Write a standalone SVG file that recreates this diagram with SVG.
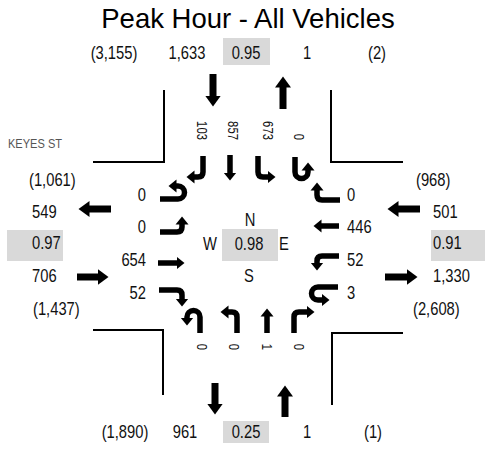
<svg xmlns="http://www.w3.org/2000/svg" width="485" height="453" viewBox="0 0 485 453">
<defs>
<style>
text{font-family:"Liberation Sans",Arial,sans-serif;fill:#111;}
.t{font-size:18px;}
.c{text-anchor:middle;}
.e{text-anchor:end;}
.r{font-size:14.5px;}
.title{font-size:27.5px;text-anchor:middle;fill:#000;}
.street{font-size:13.5px;fill:#555;}
.box{fill:#d9d9d9;}
.ln{fill:none;stroke:#000;stroke-width:2;}
.la{fill:none;stroke:#000;stroke-width:5.5;marker-end:url(#ah);}
.ba{fill:none;stroke:#000;stroke-width:7;marker-end:url(#bh);}
</style>
<marker id="ah" markerUnits="userSpaceOnUse" markerWidth="10" markerHeight="14" viewBox="0 -7 10 14" refX="0.5" refY="0" orient="auto"><path d="M0,-6.5 L8,0 L0,6.5 Z" fill="#000"/></marker>
<marker id="bh" markerUnits="userSpaceOnUse" markerWidth="13" markerHeight="18" viewBox="0 -9 13 18" refX="0.5" refY="0" orient="auto"><path d="M0,-8 L11,0 L0,8 Z" fill="#000"/></marker>
</defs>
<rect width="485" height="453" fill="#fff"/>
<g id="title"><text class="title" x="248" y="28">Peak Hour - All Vehicles</text></g>
<g id="street-name"><text class="street" transform="translate(8,148) scale(.82,1)">KEYES ST</text></g>

<g id="curbs">
<path class="ln" d="M164,90 V162 H93"/>
<path class="ln" d="M331,90 V162 H403"/>
<path class="ln" d="M93,330 H163 V395"/>
<path class="ln" d="M403,333 H332 V405"/>
</g>

<g id="north-leg">
<text class="t c" transform="translate(114,59) scale(.82,1)">(3,155)</text>
<text class="t c" transform="translate(187,59) scale(.82,1)">1,633</text>
<rect class="box" x="223" y="38" width="47" height="27"/>
<text class="t c" transform="translate(246,59) scale(.82,1)">0.95</text>
<text class="t c" transform="translate(307,59) scale(.82,1)">1</text>
<text class="t c" transform="translate(377,59) scale(.82,1)">(2)</text>
</g>
<g id="south-leg">
<text class="t c" transform="translate(125,438) scale(.82,1)">(1,890)</text>
<text class="t c" transform="translate(185,438) scale(.82,1)">961</text>
<rect class="box" x="223" y="421" width="46" height="22"/>
<text class="t c" transform="translate(246,438) scale(.82,1)">0.25</text>
<text class="t c" transform="translate(307,438) scale(.82,1)">1</text>
<text class="t c" transform="translate(373,438) scale(.82,1)">(1)</text>
</g>
<g id="west-leg">
<text class="t" transform="translate(29,186) scale(.82,1)">(1,061)</text>
<text class="t" transform="translate(32,218) scale(.82,1)">549</text>
<rect class="box" x="7" y="230" width="56" height="31"/>
<text class="t" transform="translate(32,249) scale(.82,1)">0.97</text>
<text class="t" transform="translate(32,282) scale(.82,1)">706</text>
<text class="t" transform="translate(33,315) scale(.82,1)">(1,437)</text>
</g>
<g id="east-leg">
<text class="t" transform="translate(416,186) scale(.82,1)">(968)</text>
<text class="t" transform="translate(433,218) scale(.82,1)">501</text>
<rect class="box" x="431" y="230" width="54" height="31"/>
<text class="t" transform="translate(433,249) scale(.82,1)">0.91</text>
<text class="t" transform="translate(433,282) scale(.82,1)">1,330</text>
<text class="t" transform="translate(413,315) scale(.82,1)">(2,608)</text>
</g>

<g id="center">
<rect class="box" x="222" y="229" width="56" height="32"/>
<text class="t c" transform="translate(250,226) scale(.82,1)">N</text>
<text class="t c" transform="translate(210,250) scale(.82,1)">W</text>
<text class="t c" transform="translate(249,250) scale(.82,1)">0.98</text>
<text class="t c" transform="translate(284,250) scale(.82,1)">E</text>
<text class="t c" transform="translate(249,282) scale(.82,1)">S</text>
</g>

<g id="southbound-lanes">
<text class="r e" transform="translate(197,140) rotate(90) scale(.78,1)">103</text>
<text class="r e" transform="translate(228,140) rotate(90) scale(.78,1)">857</text>
<text class="r e" transform="translate(263,140) rotate(90) scale(.78,1)">673</text>
<text class="r e" transform="translate(294,140) rotate(90) scale(.78,1)">0</text>
</g>
<g id="northbound-lanes">
<text class="r c" transform="translate(197,347) rotate(90) scale(.78,1)">0</text>
<text class="r c" transform="translate(229,347) rotate(90) scale(.78,1)">0</text>
<text class="r c" transform="translate(262,347) rotate(90) scale(.78,1)">1</text>
<text class="r c" transform="translate(294,347) rotate(90) scale(.78,1)">0</text>
</g>
<g id="eastbound-lanes">
<text class="t e" transform="translate(146,201) scale(.82,1)">0</text>
<text class="t e" transform="translate(146,233) scale(.82,1)">0</text>
<text class="t e" transform="translate(146,266) scale(.82,1)">654</text>
<text class="t e" transform="translate(146,299) scale(.82,1)">52</text>
</g>
<g id="westbound-lanes">
<text class="t" transform="translate(347,201) scale(.82,1)">0</text>
<text class="t" transform="translate(347,233) scale(.82,1)">446</text>
<text class="t" transform="translate(347,266) scale(.82,1)">52</text>
<text class="t" transform="translate(347,299) scale(.82,1)">3</text>
</g>

<g id="connectors">
<path class="ba" d="M213,74 V96"/>
<path class="ba" d="M283,109 V87"/>
<path class="ba" d="M111,209 H89"/>
<path class="ba" d="M77,277 H98"/>
<path class="ba" d="M420,209 H398"/>
<path class="ba" d="M385,277 H407"/>
<path class="ba" d="M215,383 V404"/>
<path class="ba" d="M285,417 V396"/>

<path class="la" d="M203,156 V172 Q203,177 198,177 H194"/>
<path class="la" d="M230,155 V173"/>
<path class="la" d="M258,156 V172 Q258,177 263,177 H268"/>
<path class="la" d="M295,157 V172 A6.5,6.5 0 0 0 308,172 V170"/>

<path class="la" d="M160,199 H178 A6.5,6.5 0 0 0 178,186 H176"/>
<path class="la" d="M160,232 H177 Q182,232 182,227 V224"/>
<path class="la" d="M158,263 H177"/>
<path class="la" d="M159,290 H177 Q182,290 182,295 V299"/>

<path class="la" d="M340,200 H322 Q317,200 317,195 V190"/>
<path class="la" d="M339,226 H321"/>
<path class="la" d="M339,256 H322 Q317,256 317,261 V263"/>
<path class="la" d="M338,287 H318 A6.5,6.5 0 0 0 318,300 H322"/>

<path class="la" d="M200,333 V317 A6.5,6.5 0 0 0 187,317 V318"/>
<path class="la" d="M237,333 V317 Q237,312 232,312 H228"/>
<path class="la" d="M267,333 V316"/>
<path class="la" d="M294,333 V317 Q294,312 299,312 H307"/>
</g>
</svg>
